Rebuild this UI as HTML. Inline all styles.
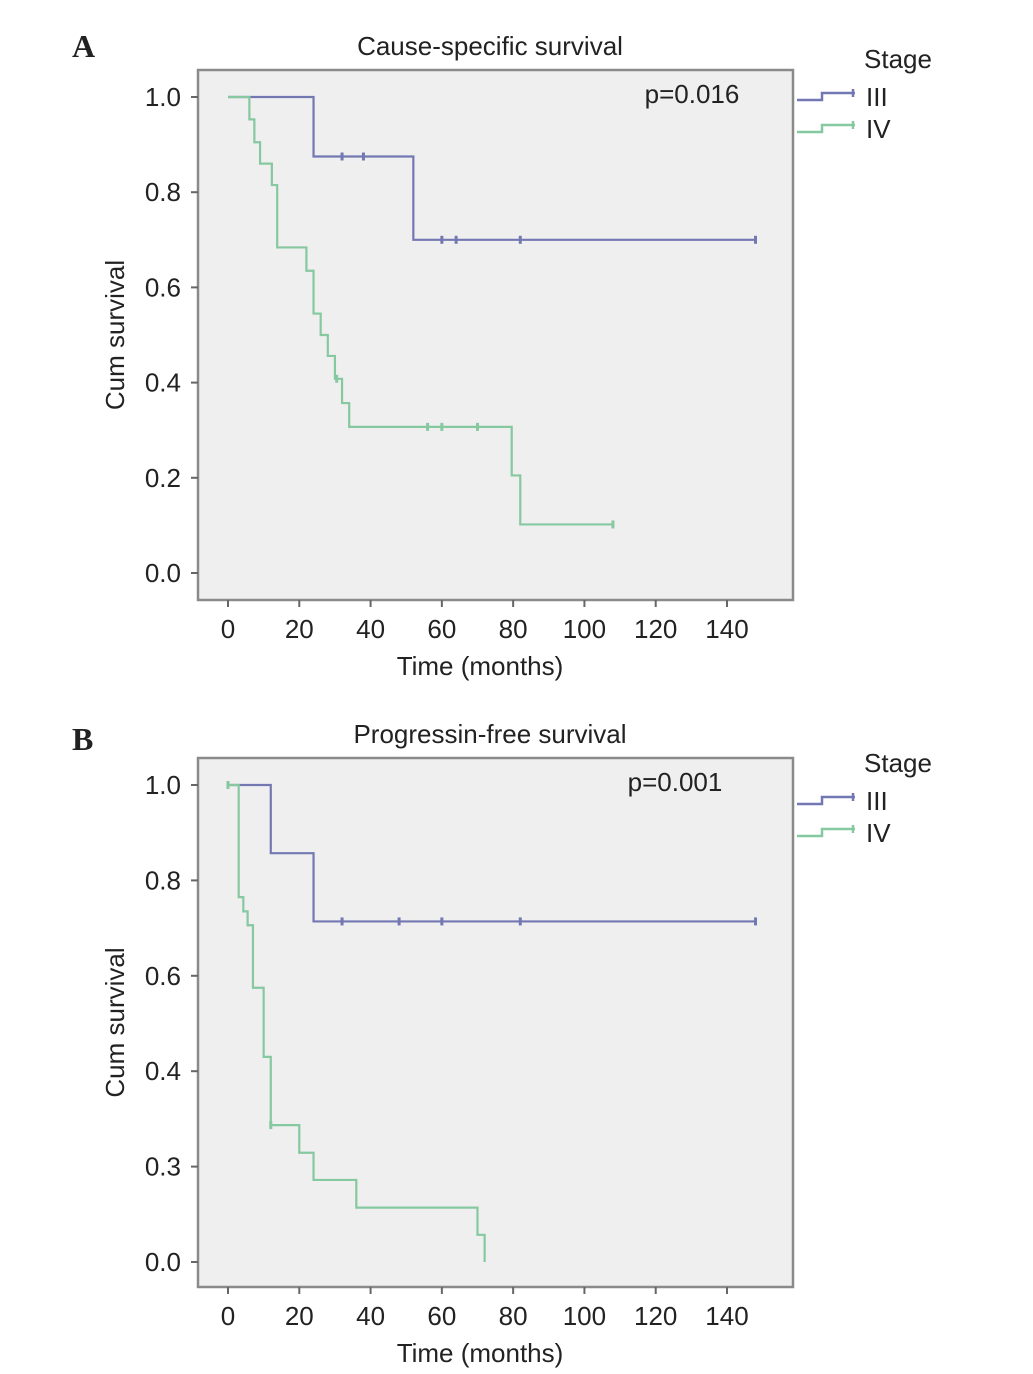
<!DOCTYPE html>
<html><head><meta charset="utf-8">
<style>
html,body{margin:0;padding:0;background:#fff;}
svg{display:block;}
text{font-family:"Liberation Sans",Arial,sans-serif;fill:#222;}
</style></head>
<body>
<svg id="fig" width="1033" height="1374" viewBox="0 0 1033 1374" xmlns="http://www.w3.org/2000/svg"></svg>
<script>
// ---- data ----
const xTicks = [0,20,40,60,80,100,120,140];
const yTickValsA = [0,0.2,0.4,0.6,0.8,1.0];
const yTickLabelsA = ["0.0","0.2","0.4","0.6","0.8","1.0"];
const yTickValsB = [0,0.2,0.4,0.6,0.8,1.0];
const yTickLabelsB = ["0.0","0.3","0.4","0.6","0.8","1.0"];
const seriesNames = ["III","IV"];
// Panel A: cause-specific survival (step times & survival after the step)
const aIIITimes = [0,24,52];
const aIIISurv  = [1.0,0.875,0.70];
const aIIIEnd = 148;
const aIIICens = [32,38,60,64,82,148];
const aIVTimes = [0,6,7.4,9,12.3,13.8,22,24,26,28,30,32,34,79.6,82];
const aIVSurv  = [1.0,0.953,0.905,0.86,0.815,0.684,0.635,0.545,0.5,0.456,0.408,0.357,0.307,0.205,0.102];
const aIVEnd = 108;
const aIVCens = [30.5,56,60,70,108];
// Panel B: progression-free survival
const bIIITimes = [0,12,24];
const bIIISurv  = [1.0,0.857,0.714];
const bIIIEnd = 148;
const bIIICens = [32,48,60,82,148];
const bIVTimes = [0,3,4.3,5.5,7,10,12,20,24,36,70,72];
const bIVSurv  = [1.0,0.765,0.735,0.706,0.575,0.43,0.287,0.229,0.172,0.114,0.057,0.0];
const bIVEnd = 72;
const bIVCens = [0,12];

const NS="http://www.w3.org/2000/svg";
const svg=document.getElementById('fig');
function el(tag,attrs,parent,txt){const e=document.createElementNS(NS,tag);for(const k in attrs)e.setAttribute(k,attrs[k]);if(txt!==undefined)e.textContent=txt;(parent||svg).appendChild(e);return e;}

const BLUE="#7478b2", GREEN="#86c8a0";

function panel(cfg){
  const g=el('g',{});
  
  
  const L=198,R=793,T=cfg.top,B=cfg.bottom,y0=cfg.y0,y1=cfg.y1;
  const xs=v=>228+v*(727-228)/140;
  const ys=v=>y0-v*(y0-y1);
  const letter=el('text',{x:72,y:cfg.letterY,'font-size':32,'font-weight':'bold',style:'font-family:"Liberation Serif",serif'},g,cfg.letter);
  
  
  const ttl=el('text',{x:490,y:T-15,'font-size':26,'text-anchor':'middle'},g,cfg.title);
  
  
  const bg=el('rect',{x:L,y:T,width:R-L,height:B-T,fill:'#efefef',stroke:'#8a8a8a','stroke-width':2.5},g);
  
  
  cfg.yVals.forEach((v,i)=>{
    const y=ys(v);
    el('line',{x1:L-7,x2:L,y1:y,y2:y,stroke:'#666','stroke-width':2},g);
    const t=el('text',{x:181,y:y+9,'font-size':26,'text-anchor':'end'},g,cfg.yLabels[i]);
    
    
  });
  xTicks.forEach(v=>{
    const x=xs(v);
    el('line',{x1:x,x2:x,y1:B,y2:B+7,stroke:'#666','stroke-width':2},g);
    const t=el('text',{x:x,y:B+38,'font-size':26,'text-anchor':'middle'},g,String(v));
    
    
  });
  const xt=el('text',{x:480,y:B+75,'font-size':26,'text-anchor':'middle'},g,'Time (months)');
  
  
  const cy=(T+B)/2;
  const yt=el('text',{x:124,y:cy,'font-size':26,'text-anchor':'middle',transform:`rotate(-90 124 ${cy})`},g,'Cum survival');
  
  
  const pv=el('text',{x:cfg.pX,y:ys(1.0)+6,'font-size':26,'text-anchor':'middle'},g,cfg.p);
  
  
  cfg.series.forEach(s=>{
    let d=`M${xs(s.times[0])},${ys(s.surv[0])}`;
    for(let i=1;i<s.times.length;i++){
      d+=` H${xs(s.times[i])} V${ys(s.surv[i])}`;
    }
    d+=` H${xs(s.end)}`;
    const p=el('path',{d:d,fill:'none',stroke:s.color,'stroke-width':2.2},g);
    
    
    s.cens.forEach(c=>{
      let v=s.surv[0];
      for(let i=0;i<s.times.length;i++) if(s.times[i]<=c) v=s.surv[i];
      const m=el('line',{x1:xs(c),x2:xs(c),y1:ys(v)-4,y2:ys(v)+4,stroke:s.color,'stroke-width':3},g);
      
      
    });
  });
  const st=el('text',{x:864,y:cfg.legY,'font-size':26},g,'Stage');
  
  
  cfg.series.forEach((s,i)=>{
    const yy=cfg.legY+28+i*32;
    const lg=el('g',{},g);
    
    
    el('path',{d:`M797,${yy+4} H822 V${yy-3} H855 M853,${yy-7} V${yy+1}`,fill:'none',stroke:s.color,'stroke-width':2.5},lg);
    el('text',{x:866,y:yy+10,'font-size':26},lg,s.name);
  });
}

panel({name:'panel-a-cause-specific',letter:'A',letterY:57,title:'Cause-specific survival',top:70,bottom:600,y0:573,y1:97,
  yVals:yTickValsA,yLabels:yTickLabelsA,p:'p=0.016',pX:692,legY:68,
  series:[{name:seriesNames[0],times:aIIITimes,surv:aIIISurv,end:aIIIEnd,cens:aIIICens,color:BLUE},
          {name:seriesNames[1],times:aIVTimes,surv:aIVSurv,end:aIVEnd,cens:aIVCens,color:GREEN}]});
panel({name:'panel-b-progression-free',letter:'B',letterY:750,title:'Progressin-free survival',top:758,bottom:1287,y0:1262,y1:785,
  yVals:yTickValsB,yLabels:yTickLabelsB,p:'p=0.001',pX:675,legY:772,
  series:[{name:seriesNames[0],times:bIIITimes,surv:bIIISurv,end:bIIIEnd,cens:bIIICens,color:BLUE},
          {name:seriesNames[1],times:bIVTimes,surv:bIVSurv,end:bIVEnd,cens:bIVCens,color:GREEN}]});
</script>
</body></html>
